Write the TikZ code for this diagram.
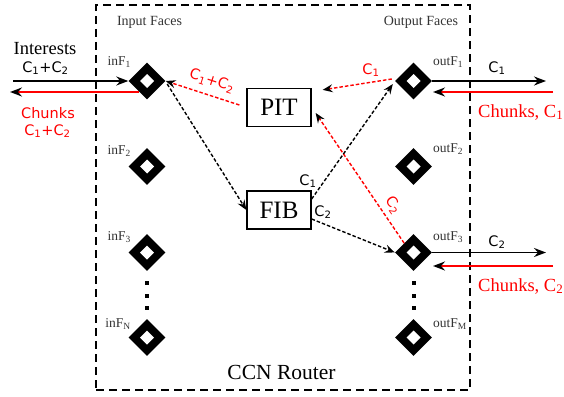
\documentclass[tikz,border=0pt]{standalone}
\usepackage{fontspec}
\setmainfont{Liberation Serif}
\newfontfamily\dejavu{DejaVu Sans}
\usetikzlibrary{arrows.meta,shapes.geometric}
\begin{document}
\begin{tikzpicture}[x=1pt,y=-1pt,
  face/.style={diamond, fill=black, minimum width=37pt, minimum height=37pt, inner sep=0pt,
    path picture={\fill[white] ([xshift=-7pt]path picture bounding box.center) -- ([yshift=7pt]path picture bounding box.center) -- ([xshift=7pt]path picture bounding box.center) -- ([yshift=-7pt]path picture bounding box.center) -- cycle;}},
  dotsq/.style={fill=black, minimum size=4pt, inner sep=0pt},
  tablebox/.style={draw, line width=1.3pt, minimum width=64pt, minimum height=38pt, inner sep=0pt, font=\fontsize{25}{28}\selectfont},
  facelbl/.style={font=\fontsize{13.5}{15}\selectfont, text=black!80, inner sep=0pt},
  headlbl/.style={font=\fontsize{14}{16}\selectfont, text=black!80, inner sep=0pt},
  big/.style={font=\fontsize{18.5}{21}\selectfont, inner sep=0pt},
  sans/.style={font=\dejavu\fontsize{14.5}{16}\selectfont, inner sep=0pt},
  thickarrow/.style={line width=1.9pt, -{Stealth[length=12pt,width=9pt,inset=4pt,color=black]}},
  innerdash/.style={line width=1.4pt, dash pattern=on 3.5pt off 2pt, -{Stealth[length=10pt,width=8pt,inset=3.5pt,color=black]}}
]
\useasboundingbox (0,0) rectangle (564,396);

% router box
\node[draw, dash pattern=on 8pt off 5pt, line width=1.6pt, minimum width=374pt, minimum height=385pt, inner sep=0pt] (routerbox) at (283,197.5) {};
\node[big, font=\fontsize{21.5}{24}\selectfont, anchor=base] (router) at (281.5,379) {CCN Router};
\node[headlbl] (inhead) at (149.5,22) {Input Faces};
\node[headlbl] (outhead) at (421,22) {Output Faces};

% faces
\node[face] (inF1) at (147,81) {};
\node[face] (inF2) at (147,166.5) {};
\node[face] (inF3) at (147,252.5) {};
\node[face] (inFN) at (147,337.5) {};
\node[face] (outF1) at (413.5,81) {};
\node[face] (outF2) at (413.5,166.5) {};
\node[face] (outF3) at (413.5,252.5) {};
\node[face] (outFM) at (413.5,337.5) {};

\node[dotsq] (ida) at (147,283) {};
\node[dotsq] (idb) at (147,295.5) {};
\node[dotsq] (idc) at (147,308) {};
\node[dotsq] (oda) at (413.5,283) {};
\node[dotsq] (odb) at (413.5,295.5) {};
\node[dotsq] (odc) at (413.5,308) {};

\node[facelbl, anchor=base east] (linF1) at (131,65.5) {inF\textsubscript{1}};
\node[facelbl, anchor=base east] (linF2) at (131,154) {inF\textsubscript{2}};
\node[facelbl, anchor=base east] (linF3) at (131,240.5) {inF\textsubscript{3}};
\node[facelbl, anchor=base east] (linFN) at (131,327) {inF\textsubscript{N}};
\node[facelbl, anchor=base west] (loutF1) at (433,65) {outF\textsubscript{1}};
\node[facelbl, anchor=base west] (loutF2) at (433,152) {outF\textsubscript{2}};
\node[facelbl, anchor=base west] (loutF3) at (433,240) {outF\textsubscript{3}};
\node[facelbl, anchor=base west] (loutFM) at (433,327) {outF\textsubscript{M}};

% tables
\node[tablebox] (PIT) at (279,107.5) {PIT};
\node[tablebox] (FIB) at (279,210) {FIB};

% left side
\node[big, anchor=base] (interests) at (45,55) {Interests};
\node[sans, anchor=base] (c12a) at (45.5,72) {C\textsubscript{1}+C\textsubscript{2}};
\node[sans, red, anchor=base] (chunksL) at (48,118) {Chunks};
\node[sans, red, anchor=base] (c12b) at (47.5,135) {C\textsubscript{1}+C\textsubscript{2}};
\coordinate (inL) at (13,81);
\coordinate (chL) at (10,92);
\coordinate (inF1r) at (139,92);
\draw[thickarrow] (inL) -- (inF1.west);
\draw[thickarrow, red] (inF1r) -- (chL);

% right side
\node[sans, anchor=base] (c1r) at (497,72) {C\textsubscript{1}};
\node[big, red, anchor=base west] (chunks1) at (478,117) {Chunks, C\textsubscript{1}};
\node[sans, anchor=base] (c2r) at (497,246) {C\textsubscript{2}};
\node[big, red, anchor=base west] (chunks2) at (478,291) {Chunks, C\textsubscript{2}};
\coordinate (o1R) at (546,81);
\coordinate (o1In) at (553,92);
\coordinate (o1Tip) at (433,92);
\coordinate (o3R) at (546,252.5);
\coordinate (o3In) at (553,266);
\coordinate (o3Tip) at (433,266);
\draw[thickarrow] (outF1.east) -- (o1R);
\draw[thickarrow, red] (o1In) -- (o1Tip);
\draw[thickarrow] (outF3.east) -- (o3R);
\draw[thickarrow, red] (o3In) -- (o3Tip);

% inner connectors
\draw[innerdash, red] ([xshift=-7pt,yshift=2.5pt]PIT.west) -- (inF1.east);
\draw[innerdash, red] ([xshift=-3pt,yshift=2pt]outF1.west) -- ([xshift=11pt,yshift=-2pt]PIT.north east);
\draw[innerdash, red] (outF3.north west) -- ([xshift=4pt,yshift=-5.5pt]PIT.east);
\draw[innerdash] ([xshift=1.5pt,yshift=-3pt]inF1.east) -- (FIB.west);
\draw[innerdash] ([yshift=11pt]FIB.east) -- ([xshift=-2pt,yshift=-3pt]outF1.west);
\draw[innerdash] ([yshift=-9pt]FIB.east) -- (outF3.west);

\node[sans, red, rotate=-18] (lc12) at (212,81) {C\textsubscript{1}+C\textsubscript{2}};
\node[sans, red] (lc1) at (371,70) {C\textsubscript{1}};
\node[sans, red, rotate=-55] (lc2) at (393,205) {C\textsubscript{2}};
\node[sans] (fc1) at (308,181) {C\textsubscript{1}};
\node[sans] (fc2) at (323,212) {C\textsubscript{2}};
\end{tikzpicture}
\end{document}
